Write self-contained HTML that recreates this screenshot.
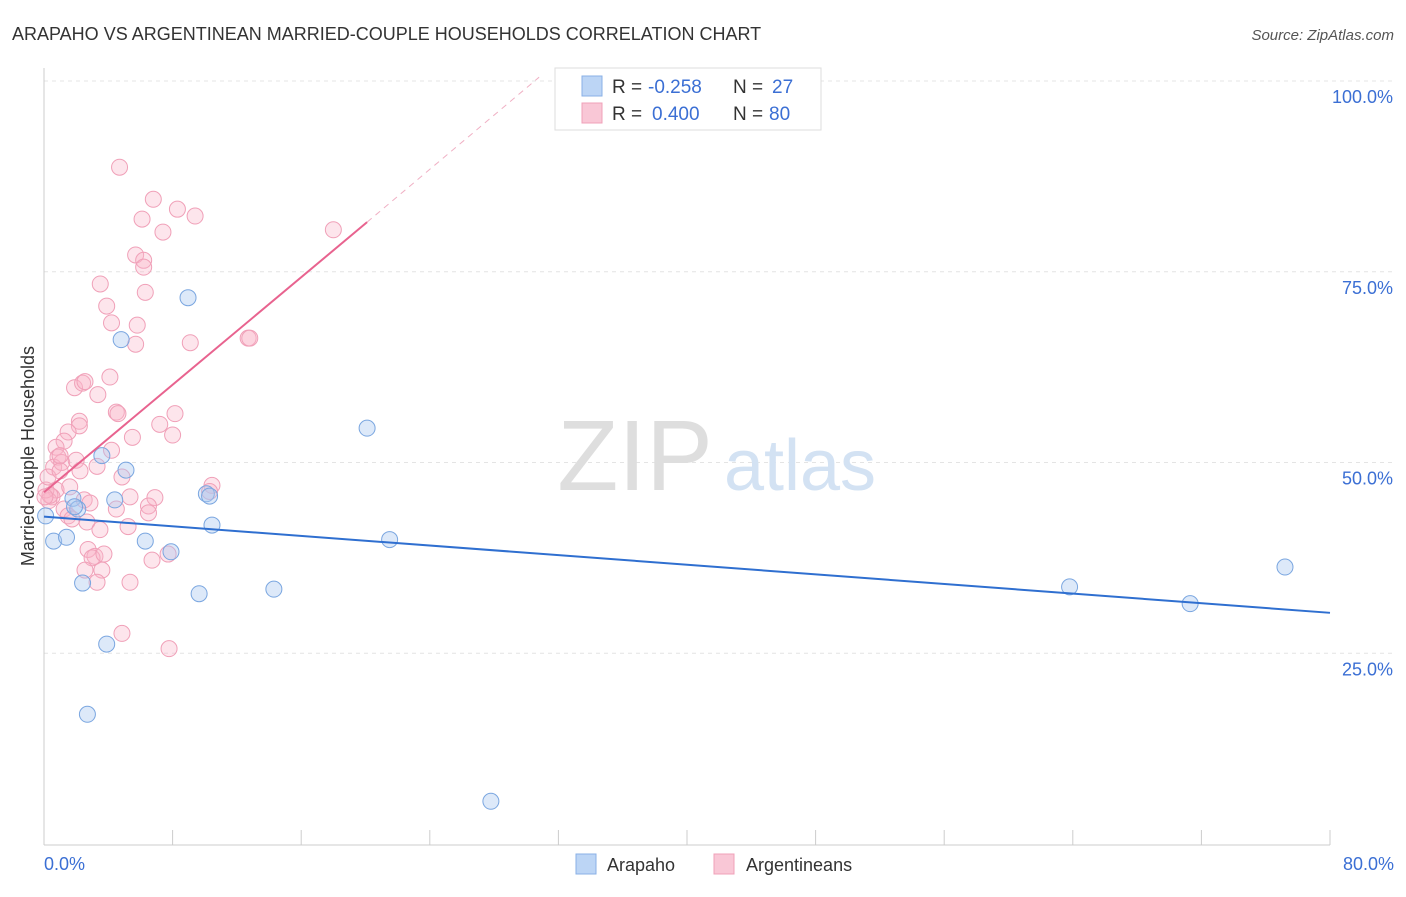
<!DOCTYPE html>
<html><head><meta charset="utf-8"><style>
body{margin:0;background:#fff;font-family:"Liberation Sans",sans-serif}
svg text{font-family:"Liberation Sans",sans-serif}
</style></head><body>
<svg width="1406" height="892" viewBox="0 0 1406 892" xmlns="http://www.w3.org/2000/svg">
<text x="12" y="40" font-size="18" fill="#333">ARAPAHO VS ARGENTINEAN MARRIED-COUPLE HOUSEHOLDS CORRELATION CHART</text>
<text x="1394" y="40" font-size="15" fill="#555" font-style="italic" text-anchor="end">Source: ZipAtlas.com</text>
<g id="grid"></g>
<g><text x="635" y="490" font-size="100" fill="#dedede" font-family="Liberation Serif" text-anchor="middle">ZIP</text><text x="800" y="490" font-size="72" fill="#d3e2f3" text-anchor="middle">atlas</text></g>
<line x1="44" y1="68" x2="44" y2="845" stroke="#ccc"/>
<line x1="44" y1="845" x2="1330" y2="845" stroke="#ccc"/>
<g id="ticks"></g>
<g id="ylabels"></g>
<text x="44" y="870" font-size="18" fill="#3b6fd4">0.0%</text>
<text x="1394" y="870" font-size="18" fill="#3b6fd4" text-anchor="end">80.0%</text>
<text x="34" y="456" font-size="18" fill="#333" text-anchor="middle" transform="rotate(-90 34 456)">Married-couple Households</text>
<g id="pts"></g>
<g id="lines"></g>
<g>
<rect x="555" y="68" width="266" height="62" fill="#fff" stroke="#ddd"/>
<rect x="582" y="76" width="20" height="20" fill="#bcd5f5" stroke="#8ab0e6"/>
<rect x="582" y="103" width="20" height="20" fill="#f9c7d6" stroke="#f0a0b8"/>
<text x="612" y="93" font-size="19" fill="#333">R =</text>
<text x="648" y="93" font-size="19" fill="#3b6fd4">-0.258</text>
<text x="733" y="93" font-size="19" fill="#333">N =</text>
<text x="772" y="93" font-size="19" fill="#3b6fd4">27</text>
<text x="612" y="120" font-size="19" fill="#333">R =</text>
<text x="652" y="120" font-size="19" fill="#3b6fd4">0.400</text>
<text x="733" y="120" font-size="19" fill="#333">N =</text>
<text x="769" y="120" font-size="19" fill="#3b6fd4">80</text>
</g>
<g>
<rect x="576" y="854" width="20" height="20" fill="#bcd5f5" stroke="#8ab0e6"/>
<text x="607" y="871" font-size="18" fill="#333">Arapaho</text>
<rect x="714" y="854" width="20" height="20" fill="#f9c7d6" stroke="#f0a0b8"/>
<text x="746" y="871" font-size="18" fill="#333">Argentineans</text>
</g>
</svg>
<script>
const blueX=[0.1,0.6,1.4,1.8,2.1,2.4,2.7,3.6,3.9,4.4,4.8,5.1,6.3,7.9,8.96,9.65,10.1,10.3,10.45,14.3,20.1,21.5,27.8,63.8,71.3,77.2,1.9];
const blueY=[43.0,39.7,40.2,45.3,43.9,34.2,17.0,50.9,26.2,45.1,66.1,49.0,39.7,38.3,71.6,32.8,45.9,45.6,41.8,33.4,54.5,39.9,5.6,33.7,31.5,36.3,44.2];
const pinkX=[4.7,6.8,8.3,9.4,6.1,7.4,5.7,6.2,6.2,6.3,3.5,3.9,4.2,5.8,5.7,9.1,12.7,12.8,18.0,1.9,2.4,2.55,3.35,4.1,4.5,4.6,8.15,7.2,8.0,5.5,2.2,2.2,1.5,1.25,0.75,0.87,0.6,1.1,2.0,3.3,4.2,4.85,0.75,0.5,0.3,1.6,2.5,2.86,1.25,1.5,2.67,5.35,6.9,4.5,6.5,6.5,5.23,10.45,10.3,2.74,3.17,2.99,3.73,2.55,3.6,3.3,5.35,6.72,7.72,4.85,7.78,0.12,0.25,1.0,0.37,1.74,3.48,0.06,1.0,2.24];
const pinkY=[88.7,84.5,83.2,82.3,81.9,80.2,77.2,76.5,75.6,72.3,73.4,70.5,68.3,68.0,65.5,65.7,66.3,66.3,80.5,59.8,60.4,60.6,58.9,61.2,56.6,56.4,56.4,55.0,53.6,53.3,55.4,54.8,54.0,52.8,52.0,50.7,49.4,50.0,50.3,49.5,51.6,48.1,46.4,45.5,45.0,46.8,45.1,44.7,43.9,43.0,42.2,45.5,45.4,43.9,44.3,43.4,41.6,47.0,46.2,38.6,37.7,37.5,38.0,35.9,35.9,34.3,34.3,37.2,38.0,27.6,25.6,46.4,48.1,50.9,45.7,42.6,41.2,45.5,48.9,48.9];
const yTicks=[25,50,75,100];
const blueLine=[[0,42.9],[80,30.3]];
const pinkLine=[[0,46.1],[20.1,81.5]];
const pinkDash=[[20.1,81.5],[30.8,100.5]];
const sx=v=>44+v/80*1286, sy=v=>844-v/100*763;
const NS='http://www.w3.org/2000/svg';
function mk(t,a,p){const e=document.createElementNS(NS,t);for(const k in a)e.setAttribute(k,a[k]);p.appendChild(e);return e;}
const grid=document.getElementById('grid'),yl=document.getElementById('ylabels');
yTicks.forEach(t=>{const l=mk('line',{x1:44,x2:1394,y1:sy(t),y2:sy(t),stroke:'#e4e4e4','stroke-dasharray':'4,4'},grid);


const tx=mk('text',{x:1393,y:sy(t)+22,'font-size':18,fill:'#3b6fd4','text-anchor':'end'},yl);tx.textContent=t.toFixed(1)+'%';

});
const tk=document.getElementById('ticks');
for(let i=0;i<=10;i++){const l=mk('line',{x1:sx(i*8),x2:sx(i*8),y1:830,y2:845,stroke:'#ccc'},tk);

}
const pts=document.getElementById('pts');
pinkX.forEach((x,i)=>{const c=mk('circle',{cx:sx(x),cy:sy(pinkY[i]),r:8,fill:'rgba(248,180,200,0.35)',stroke:'#f0a0b8','stroke-width':1},pts);

});
blueX.forEach((x,i)=>{const c=mk('circle',{cx:sx(x),cy:sy(blueY[i]),r:8,fill:'rgba(170,200,240,0.4)',stroke:'#7aa6e0','stroke-width':1},pts);

});
const ln=document.getElementById('lines');
const b=mk('line',{x1:sx(blueLine[0][0]),y1:sy(blueLine[0][1]),x2:sx(blueLine[1][0]),y2:sy(blueLine[1][1]),stroke:'#2f6fd0','stroke-width':2},ln);


const p=mk('line',{x1:sx(pinkLine[0][0]),y1:sy(pinkLine[0][1]),x2:sx(pinkLine[1][0]),y2:sy(pinkLine[1][1]),stroke:'#e8638f','stroke-width':2},ln);


const d=mk('line',{x1:sx(pinkDash[0][0]),y1:sy(pinkDash[0][1]),x2:sx(pinkDash[1][0]),y2:sy(pinkDash[1][1]),stroke:'#f0b0c4','stroke-width':1,'stroke-dasharray':'6,5'},ln);


</script>
</body></html>
